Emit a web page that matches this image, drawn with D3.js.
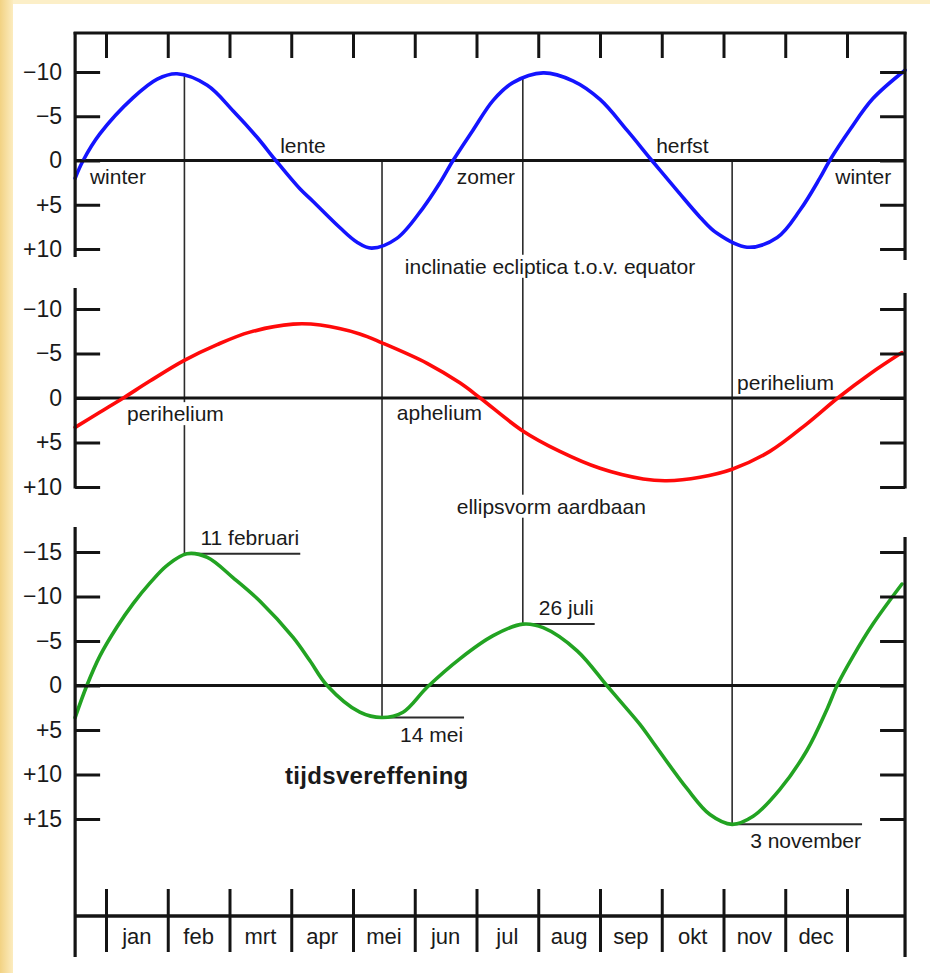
<!DOCTYPE html>
<html><head><meta charset="utf-8">
<script src="https://cdn.jsdelivr.net/npm/d3@7"></script>
<style>
body{margin:0;background:#fcefc8;}
svg{display:block;}
text{font-family:"Liberation Sans",Arial,Helvetica,sans-serif;fill:#1a1a1a;}
</style>
</head><body>
<svg id="c" width="930" height="973"></svg>
<script>
// ---------------- DATA ----------------
const months = ["jan","feb","mrt","apr","mei","jun","jul","aug","sep","okt","nov","dec"];
const monthBounds = [0,1,2,3,4,5,6,7,8,9,10,11,12];

const ticks10 = [-10,-5,0,5,10];
const ticks15 = [-15,-10,-5,0,5,10,15];

// inclinatie ecliptica t.o.v. equator (blue), x in months since 1 jan
const blueMonth = [-0.50,-0.37,-0.10,0.44,0.83,1.15,1.64,2.06,2.45,2.75,3.14,3.35,3.79,4.06,4.30,4.71,5.13,5.41,5.62,5.94,6.27,6.59,7.08,7.56,8.00,8.44,8.84,9.25,9.62,9.89,10.38,10.87,11.24,11.56,11.72,12.05,12.42,12.94];
const blueValue = [2.0,0,-3.0,-7.1,-9.2,-9.8,-8.5,-5.6,-2.6,0,3.2,4.6,7.6,9.2,9.9,8.8,5.4,2.5,0,-3.4,-6.8,-8.8,-9.9,-9.0,-6.9,-3.4,0,3.4,6.4,8.2,9.8,8.7,5.6,2.0,0,-3.5,-7.0,-10.2];

// ellipsvorm aardbaan (red)
const redMonth = [-0.50,-0.10,0.28,0.71,1.26,1.80,2.33,3.03,3.47,4.11,4.47,5.20,5.73,6.06,6.75,7.35,8.00,8.70,9.08,9.62,10.14,10.75,11.35,11.85,12.37,12.89];
const redValue = [3.3,1.6,0,-1.9,-4.2,-6.0,-7.4,-8.3,-8.2,-7.2,-6.2,-3.9,-1.7,0,3.7,6.0,7.9,9.1,9.3,8.9,8.0,6.0,2.9,0,-2.7,-5.1];

// tijdsvereffening (green)
const greenMonth = [-0.50,-0.31,-0.10,0.18,0.44,0.71,0.99,1.31,1.64,2.06,2.49,3.03,3.30,3.58,4.11,4.47,4.81,5.20,5.73,6.27,6.75,7.08,7.63,8.11,8.32,8.65,8.86,9.41,9.78,10.14,10.48,10.91,11.35,11.68,11.84,12.10,12.42,12.89];
const greenValue = [3.6,0,-3.3,-6.6,-9.2,-11.5,-13.5,-14.8,-14.4,-12.1,-9.5,-5.4,-2.8,0,3.0,3.6,3.0,0.2,-3.0,-5.6,-6.9,-6.5,-3.9,0,1.7,4.4,6.4,11.6,14.5,15.6,14.7,11.7,7.3,2.6,0,-3.3,-6.9,-11.4];

// extremes of the equation of time
const eventMonth = [1.27,4.47,6.75,10.14];
const eventLabel = ["11 februari","14 mei","26 juli","3 november"];
const eventGreen = [-14.8,3.6,-6.9,15.6];
const eventTopBlue = [-9.8,0,-9.4,0];   // where the vertical line starts in the top panel
const eventBelow = [false,true,false,true];

// panel texts
const labelText  = ["winter","lente","zomer","herfst","winter","inclinatie ecliptica t.o.v. equator",
                    "perihelium","aphelium","perihelium","ellipsvorm aardbaan","tijdsvereffening"];
const labelPanel = [1,1,1,1,1,1,2,2,2,2,3];
const labelMonth = [-0.26,2.82,5.68,8.91,11.81,4.84,0.34,4.71,10.22,5.68,2.90];
const labelValue = [2.65,-0.85,2.65,-0.85,2.65,12.8,2.6,2.5,-0.9,13.0,11.1];
const labelBg    = [false,false,false,false,false,true,true,false,false,true,false];
const labelBold  = [false,false,false,false,false,false,false,false,false,false,true];

// ---------------- CHART ----------------
const svg = d3.select("#c");

// background frame
const defs = svg.append("defs");
const g1 = defs.append("linearGradient").attr("id","lg").attr("x1","0").attr("x2","1").attr("y1","0").attr("y2","0");
g1.append("stop").attr("offset","0").attr("stop-color","#f2d283");
g1.append("stop").attr("offset","1").attr("stop-color","#fcecbf");
svg.append("rect").attr("x",0).attr("y",0).attr("width",930).attr("height",973).attr("fill","#fcefc8");
svg.append("rect").attr("x",0).attr("y",0).attr("width",13).attr("height",973).attr("fill","url(#lg)");
svg.append("rect").attr("x",13).attr("y",4).attr("width",917).attr("height",969).attr("fill","#ffffff");

const x = d3.scaleLinear().domain([0,12]).range([106,847]);
const xL = x(-0.5), xR = x(12.94);
const y1 = d3.scaleLinear().domain([-10,10]).range([72,249]);
const y2 = d3.scaleLinear().domain([-10,10]).range([309,487]);
const y3 = d3.scaleLinear().domain([-15,15]).range([552,819]);
const ys = {1:y1,2:y2,3:y3};

const ink = "#141414";
const fmt = v => v < 0 ? "\u2212" + (-v) : (v > 0 ? "+" + v : "0");

// vertical event lines
eventMonth.forEach((m,i) => {
  svg.append("line").attr("x1",x(m)).attr("x2",x(m))
    .attr("y1",y1(eventTopBlue[i])).attr("y2",y3(eventGreen[i]))
    .attr("stroke","#2b2b2b").attr("stroke-width",1.6);
});

// panel labels
labelText.forEach((t,i) => {
  const yy = ys[labelPanel[i]];
  const tx = svg.append("text").attr("x",x(labelMonth[i])).attr("y",yy(labelValue[i]))
    .attr("font-size", labelBold[i] ? 24 : 21)
    .attr("font-weight", labelBold[i] ? "bold" : "normal")
    .attr("letter-spacing", labelBold[i] ? 0.3 : 0)
    .text(t);
  if (labelBg[i]) {
    const b = tx.node().getBBox();
    svg.insert("rect", () => tx.node()).attr("x",b.x-2).attr("y",b.y).attr("width",b.width+4).attr("height",b.height)
      .attr("fill","#fff");
  }
});

// event labels with leader lines
eventMonth.forEach((m,i) => {
  const yv = y3(eventGreen[i]);
  const tx = svg.append("text").attr("x",x(m) + (eventBelow[i] ? 18 : 16))
    .attr("y", eventBelow[i] ? yv + 24 : yv - 9)
    .attr("font-size",21).text(eventLabel[i]);
  const b = tx.node().getBBox();
  svg.append("line").attr("x1",x(m)).attr("x2",b.x + b.width + 1)
    .attr("y1",yv).attr("y2",yv).attr("stroke","#2b2b2b").attr("stroke-width",2);
});

// zero lines
[y1,y2,y3].forEach(yy => {
  svg.append("line").attr("x1",xL).attr("x2",xR).attr("y1",yy(0)).attr("y2",yy(0))
    .attr("stroke",ink).attr("stroke-width",3);
});

// curves
const mk = (ms, vs) => ms.map((m,i) => ({m, v: vs[i]}));
const curves = [
  {data: mk(blueMonth, blueValue), y: y1, color: "#1414ff"},
  {data: mk(redMonth, redValue), y: y2, color: "#ff0a0a"},
  {data: mk(greenMonth, greenValue), y: y3, color: "#22a322"}
];
curves.forEach(c => {
  const line = d3.line().x(d => x(d.m)).y(d => c.y(d.v)).curve(d3.curveCatmullRom.alpha(0.5));
  svg.append("path").attr("d", line(c.data)).attr("fill","none")
    .attr("stroke", c.color).attr("stroke-width", 3.6).attr("stroke-linejoin","round").attr("stroke-linecap","round");
});

// vertical axes
function vAxis(yy, tv, top, bottom, topR, bottomR) {
  const gl = svg.append("g").attr("transform",`translate(${xL},0)`)
    .call(d3.axisRight(yy).tickValues(tv).tickSize(25).tickFormat(fmt));
  gl.select(".domain").remove();
  gl.selectAll(".tick line").attr("stroke",ink).attr("stroke-width",3);
  gl.selectAll(".tick text").attr("x",-13).attr("text-anchor","end")
    .attr("font-size",23).attr("fill",ink)
    .attr("font-family",'"Liberation Sans",Arial,sans-serif');
  svg.append("line").attr("x1",xL).attr("x2",xL).attr("y1",top).attr("y2",bottom)
    .attr("stroke",ink).attr("stroke-width",3.2);
  const gr = svg.append("g").attr("transform",`translate(${xR},0)`)
    .call(d3.axisLeft(yy).tickValues(tv).tickSize(25).tickFormat(""));
  gr.select(".domain").remove();
  gr.selectAll(".tick line").attr("stroke",ink).attr("stroke-width",3);
  svg.append("line").attr("x1",xR).attr("x2",xR).attr("y1",topR).attr("y2",bottomR)
    .attr("stroke",ink).attr("stroke-width",3.2);
}
vAxis(y1, ticks10, 32, 257, 32, 260);
vAxis(y2, ticks10, 288, y2(10)+1.5, 293, y2(10)+1.5);
vAxis(y3, ticks15, 527, 957, 537, 957);

// top axis
const gt = svg.append("g").attr("transform","translate(0,33)")
  .call(d3.axisBottom(x).tickValues(monthBounds).tickSize(25).tickFormat(""));
gt.select(".domain").remove();
gt.selectAll(".tick line").attr("stroke",ink).attr("stroke-width",3);
svg.append("line").attr("x1",xL-1.5).attr("x2",xR+1.5).attr("y1",33).attr("y2",33)
  .attr("stroke",ink).attr("stroke-width",3.2);

// bottom month axis
const gb = svg.append("g").attr("transform","translate(0,916)")
  .call(d3.axisBottom(x).tickValues(monthBounds).tickSize(36).tickFormat(""));
gb.select(".domain").remove();
gb.selectAll(".tick line").attr("y1",-27).attr("stroke",ink).attr("stroke-width",3);
svg.append("line").attr("x1",xL).attr("x2",xR).attr("y1",916).attr("y2",916)
  .attr("stroke",ink).attr("stroke-width",3.6);
svg.selectAll(".mlab").data(months).enter().append("text").attr("class","mlab")
  .attr("x",(d,i) => x(i + 0.5)).attr("y",944)
  .attr("text-anchor","middle")
  .style("font-family",'"Liberation Sans Narrow","Liberation Sans",Arial,sans-serif')
  .attr("font-size",22).text(d => d);
</script>
</body></html>
